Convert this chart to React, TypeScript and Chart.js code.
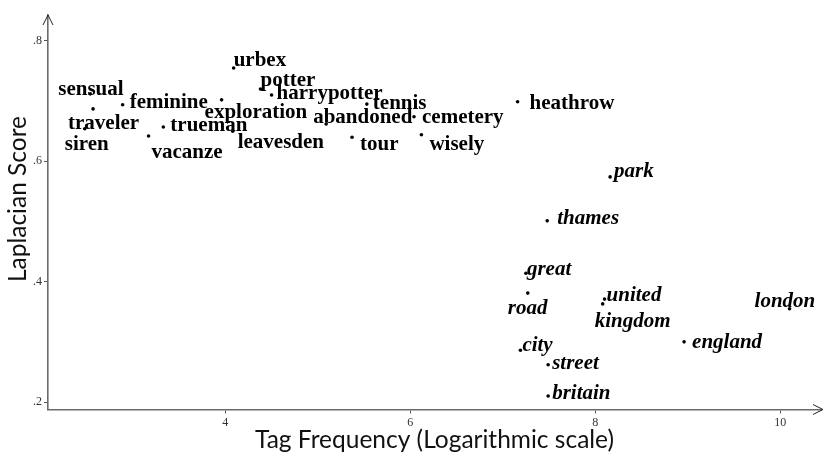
import { useEffect, useRef } from 'react';
import { Chart, registerables } from 'chart.js';

Chart.register(...registerables);

// ---- data ----
const tags = [
  'sensual', 'traveler', 'siren', 'feminine', 'trueman', 'vacanze',
  'urbex', 'potter', 'harrypotter', 'exploration', 'leavesden', 'tennis',
  'abandoned', 'cemetery', 'tour', 'wisely', 'heathrow', 'park',
  'thames', 'great', 'road', 'united', 'kingdom', 'london',
  'city', 'street', 'england', 'britain',
];
const tagFrequency = [
  2.54, 2.57, 2.48, 2.89, 3.33, 3.17,
  4.09, 4.38, 4.50, 3.96, 4.08, 5.53,
  5.09, 6.04, 5.37, 6.12, 7.16, 8.16,
  7.48, 7.25, 7.27, 8.10, 8.08, 10.10,
  7.19, 7.49, 8.96, 7.49,
];
const laplacianScore = [
  0.712, 0.687, 0.654, 0.694, 0.657, 0.642,
  0.755, 0.720, 0.710, 0.702, 0.650, 0.695,
  0.662, 0.674, 0.640, 0.644, 0.699, 0.574,
  0.501, 0.414, 0.381, 0.371, 0.363, 0.355,
  0.286, 0.262, 0.300, 0.210,
];
const italicTags = ['park', 'thames', 'great', 'road', 'united', 'kingdom', 'london', 'city', 'street', 'england', 'britain'];
const xTickValues = [4, 6, 8, 10];
const yTickValues = [0.2, 0.4, 0.6, 0.8];
const xTitle = 'Tag Frequency (Logarithmic scale)';
const yTitle = 'Laplacian Score';

// ---- label layout (offset of label's left/middle from its point, px) ----
const labelOffsets: [number, number][] = [
  [-32, -6], [-25, 13], [-20, 14], [7, -4], [7, -3], [3, 15],
  [0, -9], [0, -10], [5, -3], [-17, 11], [5, 9], [6, -3],
  [-13, -8], [8, -1], [8, 5], [8, 8], [12, 0], [4, -7],
  [10, -4], [1, -6], [-20, 13], [2, -6], [-8, 16], [-35, -9],
  [2, -7], [4, -3], [8, -1], [4, -4],
];

const labelPlugin = {
  id: 'pointLabels',
  afterDatasetsDraw(chart: any) {
    const ctx = chart.ctx;
    const meta = chart.getDatasetMeta(0);
    ctx.save();
    ctx.fillStyle = '#000';
    ctx.textAlign = 'left';
    ctx.textBaseline = 'middle';
    meta.data.forEach((pt: any, i: number) => {
      const tag = tags[i];
      const it = italicTags.includes(tag);
      ctx.font = `${it ? 'italic ' : ''}bold 21px "Liberation Serif", "Times New Roman", serif`;
      const [dx, dy] = labelOffsets[i];
      ctx.fillText(tag, pt.x + dx, pt.y + dy + 2);
    });
    ctx.restore();
  },
};

const axisDecorPlugin = {
  id: 'axisDecor',
  afterDraw(chart: any) {
    const ctx = chart.ctx;
    const { left, top, right, bottom } = chart.chartArea;
    ctx.save();
    ctx.strokeStyle = '#222';
    ctx.lineWidth = 1;
    // arrow at top of y axis
    ctx.beginPath();
    ctx.moveTo(left - 5, top + 10);
    ctx.lineTo(left, top);
    ctx.lineTo(left + 5, top + 10);
    ctx.stroke();
    // arrow at right end of x axis
    ctx.beginPath();
    ctx.moveTo(right - 8, bottom - 5);
    ctx.lineTo(right + 2, bottom);
    ctx.lineTo(right - 8, bottom + 5);
    ctx.stroke();
    // y axis title
    ctx.translate(18, 199);
    ctx.rotate(-Math.PI / 2);
    ctx.fillStyle = '#111';
    ctx.font = '24.5px Lato, "Open Sans", sans-serif';
    ctx.textAlign = 'center';
    ctx.textBaseline = 'middle';
    ctx.fillText(yTitle, 0, 0);
    ctx.restore();
  },
};

export default function App() {
  const canvasRef = useRef<HTMLCanvasElement | null>(null);

  useEffect(() => {
    if (!canvasRef.current) return;
    const chart = new Chart(canvasRef.current, {
      type: 'scatter',
      data: {
        datasets: [
          {
            label: yTitle,
            data: tagFrequency.map((x, i) => ({ x, y: laplacianScore[i] })),
            backgroundColor: '#000',
            borderColor: '#000',
            pointRadius: 1.8,
            pointHoverRadius: 1.8,
            borderWidth: 0,
          },
        ],
      },
      options: {
        animation: false,
        responsive: false,
        layout: { padding: { top: 15, right: 3, left: 0, bottom: 0 } },
        plugins: { legend: { display: false }, tooltip: { enabled: false } },
        scales: {
          x: {
            type: 'linear',
            min: 2.083,
            max: 10.44,
            afterFit: (s: any) => { s.height = 42.5; },
            afterBuildTicks: (s: any) => { s.ticks = xTickValues.map((v) => ({ value: v })); },
            grid: { display: true, drawOnChartArea: false, drawTicks: true, tickLength: 4, color: '#555', lineWidth: 1 },
            border: { display: true, color: '#6b6b6b', width: 1.6 },
            ticks: {
              color: '#333',
              padding: 2,
              font: { family: '"Liberation Serif", serif', size: 12 },
              callback: (v: any) => String(v),
            },
            title: {
              display: true,
              text: xTitle,
              color: '#111',
              font: { family: 'Lato, "Open Sans", sans-serif', size: 24.5, lineHeight: 1.0 },
              padding: { top: 0, bottom: 0 },
            },
          },
          y: {
            type: 'linear',
            min: 0.1876,
            max: 0.843,
            afterFit: (s: any) => { s.width = 48; },
            afterBuildTicks: (s: any) => { s.ticks = yTickValues.map((v) => ({ value: v })); },
            grid: { display: true, drawOnChartArea: false, drawTicks: true, tickLength: 4, color: '#555', lineWidth: 1 },
            border: { display: true, color: '#6b6b6b', width: 1.6 },
            ticks: {
              color: '#333',
              padding: 2,
              font: { family: '"Liberation Serif", serif', size: 12 },
              callback: (v: any) => Number(v).toFixed(1).replace(/^0/, ''),
            },
            title: { display: false },
          },
        },
      },
      plugins: [labelPlugin, axisDecorPlugin],
    });
    return () => chart.destroy();
  }, []);

  return (
    <div style={{ position: 'fixed', left: 0, top: 0, width: 824, height: 452, background: '#fff' }}>
      <canvas ref={canvasRef} width={824} height={452} />
    </div>
  );
}
